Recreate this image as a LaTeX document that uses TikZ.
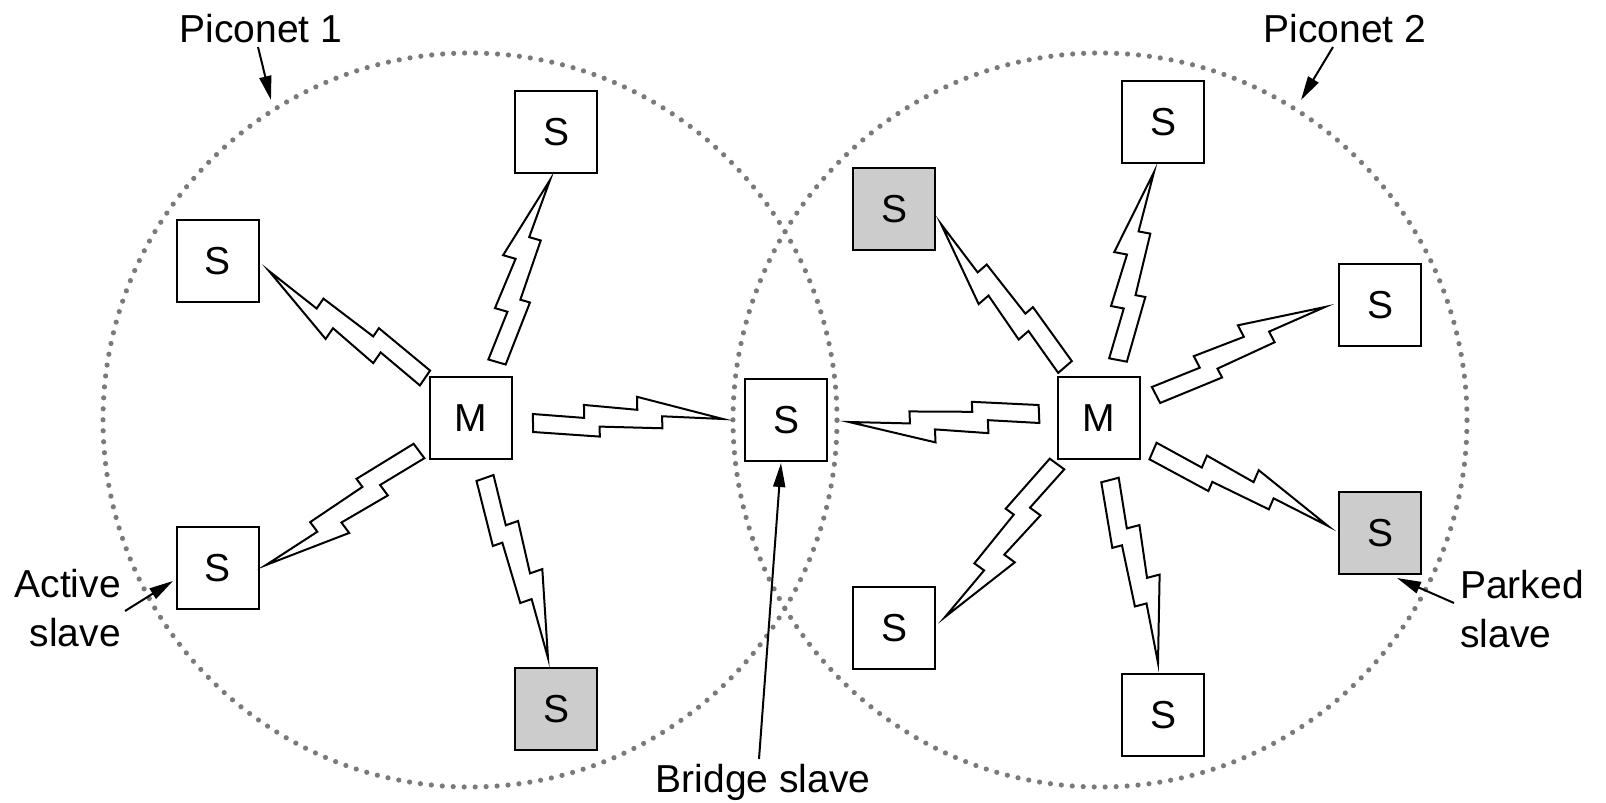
\documentclass[tikz,border=0pt]{standalone}
\usepackage{fontspec}
\setmainfont{Liberation Sans}
\usetikzlibrary{calc,arrows.meta}
\newcommand\bolt[2]{%
  \draw[boltst] ($(#1)!9pt!90:(#2)$)
    -- ($(#1)!0.27!(#2)!4pt!90:(#2)$)
    -- ($(#1)!0.27!(#2)!17pt!90:(#2)$)
    -- ($(#1)!0.55!(#2)!11pt!90:(#2)$)
    -- ($(#1)!0.55!(#2)!24pt!90:(#2)$)
    -- (#2)
    -- ($(#1)!0.68!(#2)!4pt!90:(#2)$)
    -- ($(#1)!0.68!(#2)!8pt!-90:(#2)$)
    -- ($(#1)!0.35!(#2)!5pt!-90:(#2)$)
    -- ($(#1)!0.35!(#2)!15pt!-90:(#2)$)
    -- ($(#1)!9pt!-90:(#2)$)
    -- cycle;}
\begin{document}
\begin{tikzpicture}[x=1pt,y=-1pt,
  every node/.style={font=\fontsize{39}{49}\selectfont},
  box/.style={draw, line width=2.2pt, minimum size=82pt, inner sep=0pt, fill=white},
  parkedbox/.style={box, fill=black!20},
  boltst/.style={draw, fill=white, line width=2pt, line join=miter},
  piconet/.style={draw=black!52, line width=5.2pt, line cap=round, dash pattern=on 0pt off 10.98pt},
  arr/.style={line width=2pt, -{Triangle[length=24pt,width=12pt]}},
  lbl/.style={inner sep=0pt}]
\useasboundingbox (0,0) rectangle (1606,803);
% piconet borders
\draw[piconet] (470,420) circle[radius=367pt];
\draw[piconet] (1100,420) circle[radius=367pt];
% piconet 1 nodes
\node[box] (M1) at (471,418) {M};
\node[box] (BR) at (786,420) {S};
\node[box] (S1a) at (556,132) {S};
\node[box] (S1b) at (218,261) {S};
\node[box] (S1c) at (218,568) {S};
\node[parkedbox] (S1d) at (556,709) {S};
% piconet 2 nodes
\node[box] (M2) at (1099,418) {M};
\node[parkedbox] (S2a) at (894,209) {S};
\node[box] (S2b) at (1163,122) {S};
\node[box] (S2c) at (1380,305) {S};
\node[parkedbox] (S2d) at (1380,533) {S};
\node[box] (S2e) at (1163,715) {S};
\node[box] (S2f) at (894,628) {S};
% bolt end points
\coordinate (b1) at (533,423);   \coordinate (t1) at (723,419);
\coordinate (b2) at (497,362);   \coordinate (t2) at (550,180);
\coordinate (b3) at (425,378);   \coordinate (t3) at (269,271);
\coordinate (b4) at (419,451);   \coordinate (t4) at (266,565);
\coordinate (b5) at (485,478);   \coordinate (t5) at (548,658);
\coordinate (b6) at (1039,414);  \coordinate (t6) at (849,422);
\coordinate (b7) at (1065,367);  \coordinate (t7) at (941,224);
\coordinate (b8) at (1118,360);  \coordinate (t8) at (1154,172);
\coordinate (b9) at (1156,395);  \coordinate (t9) at (1325,307);
\coordinate (b10) at (1153,451); \coordinate (t10) at (1328,526);
\coordinate (b11) at (1110,480); \coordinate (t11) at (1158,663);
\coordinate (b12) at (1057,464); \coordinate (t12) at (945,617);
\foreach \i in {1,...,12}{\bolt{b\i}{t\i}}
% labels
\node[lbl, anchor=base] (p1lbl) at (261,42) {Piconet 1};
\node[lbl, anchor=base] (p2lbl) at (1345,42) {Piconet 2};
\node[lbl, anchor=base] (brlbl) at (763,792) {Bridge slave};
\node[lbl, anchor=north east, align=right] (actlbl) at (121,569) {Active\\slave};
\node[lbl, anchor=north west, align=left] (parklbl) at (1460,570) {Parked\\slave};
% pointer arrows
\coordinate (p1from) at (258,47);   \coordinate (p1to) at (271,100);
\coordinate (p2from) at (1333,47);  \coordinate (p2to) at (1301,100);
\coordinate (actfrom) at (125,611); \coordinate (actto) at (173,581);
\coordinate (brfrom) at (759,759);  \coordinate (brto) at (781,463);
\coordinate (pkfrom) at (1454,603); \coordinate (pkto) at (1397,578);
\draw[arr] (p1from) -- (p1to);
\draw[arr] (p2from) -- (p2to);
\draw[arr] (actfrom) -- (actto);
\draw[arr] (brfrom) -- (brto);
\draw[arr] (pkfrom) -- (pkto);
\end{tikzpicture}
\end{document}
